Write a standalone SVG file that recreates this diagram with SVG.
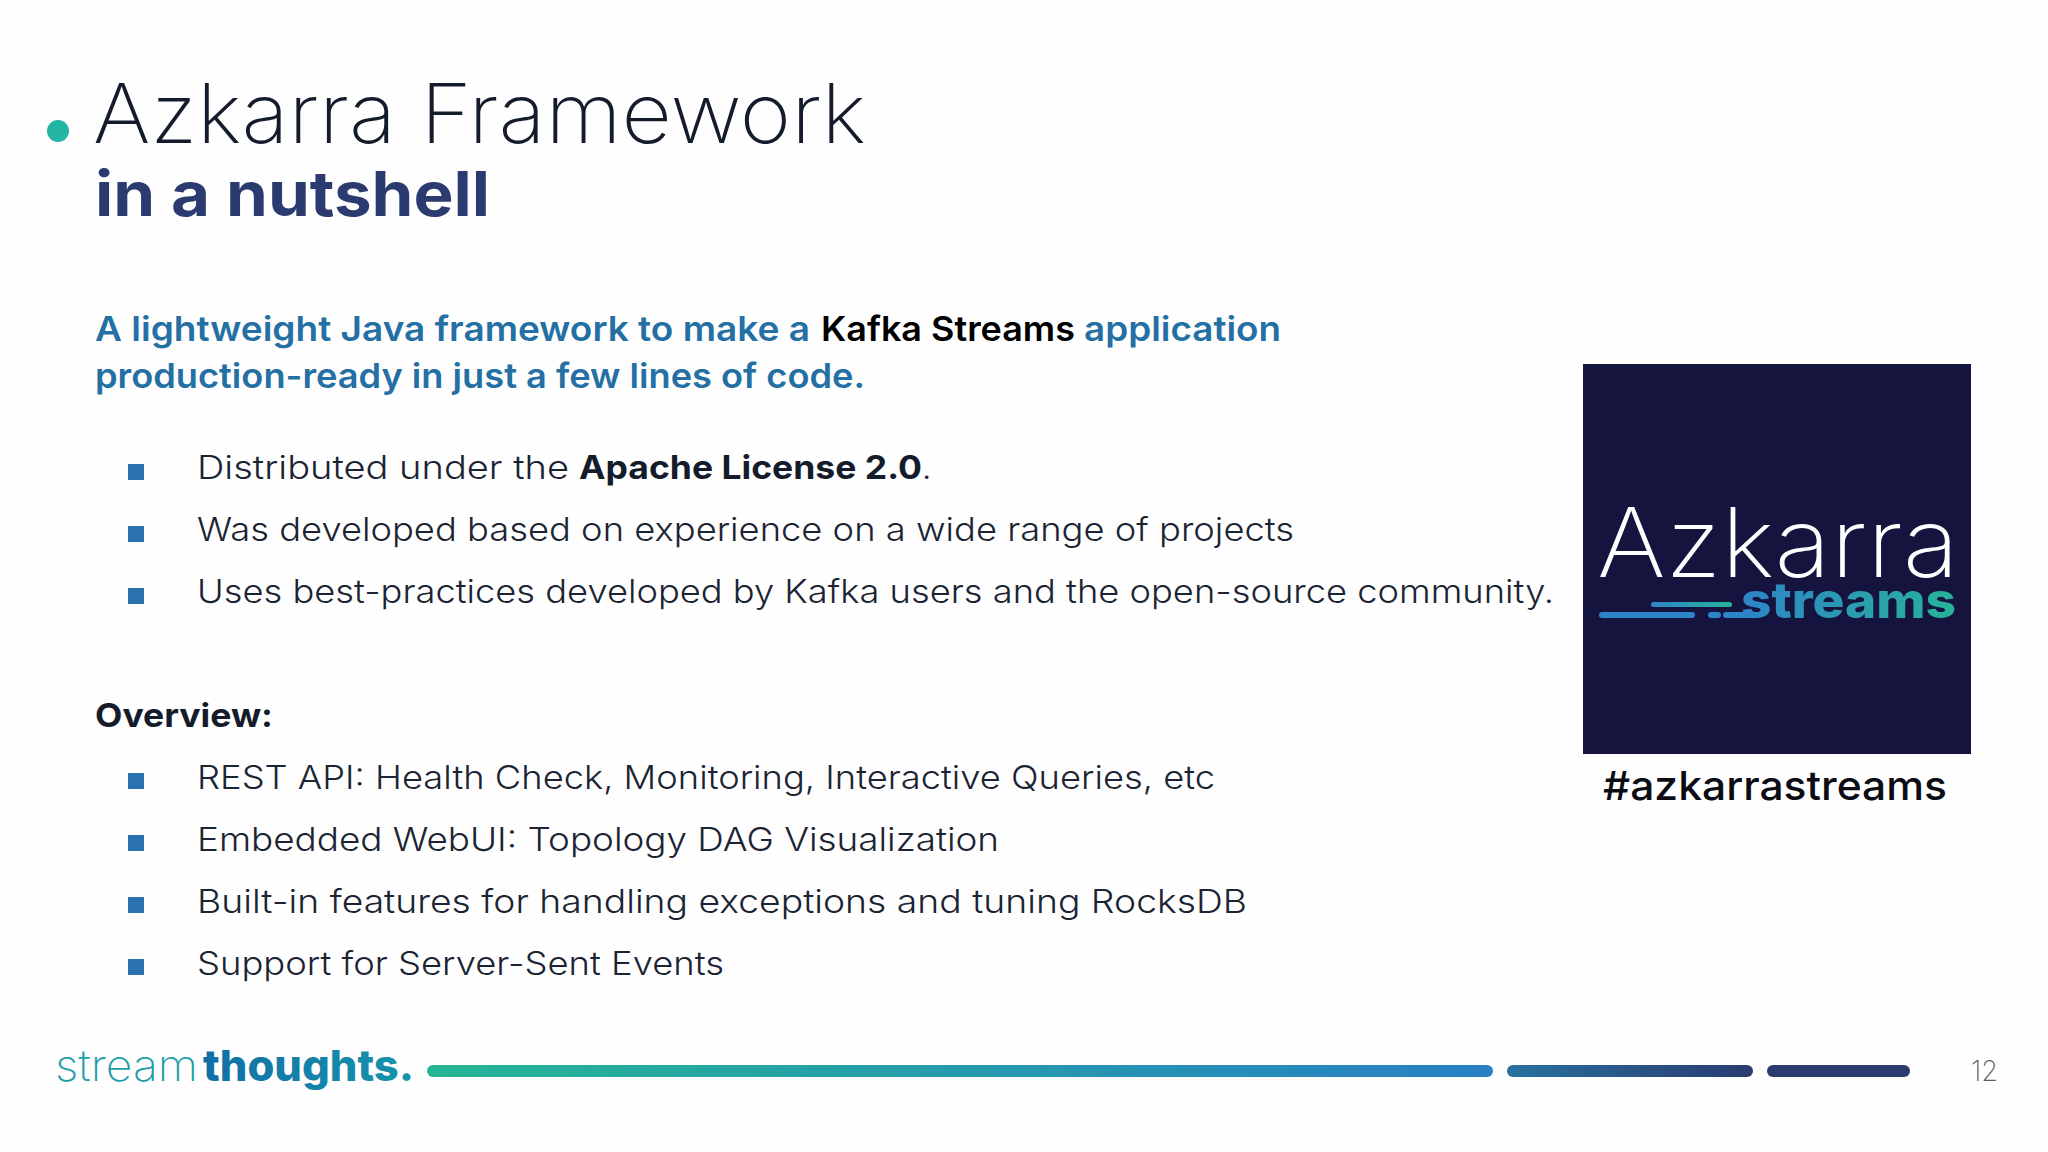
<svg xmlns="http://www.w3.org/2000/svg" width="2048" height="1152" viewBox="0 0 2048 1152">
<style>
text{font-family:"Inter","Noto Sans","Liberation Sans",sans-serif}
.b{font-size:33px;fill:#1b2433;font-weight:350}
.p{font-size:34px;fill:#2470a5;font-weight:600}
.sq{fill:#2a72ad}
</style>
<defs>
<linearGradient id="g1" gradientUnits="userSpaceOnUse" x1="427" y1="0" x2="1493" y2="0"><stop offset="0" stop-color="#25b595"/><stop offset="1" stop-color="#2780c4"/></linearGradient>
<linearGradient id="g2" gradientUnits="userSpaceOnUse" x1="1507" y1="0" x2="1753" y2="0"><stop offset="0" stop-color="#27719f"/><stop offset="1" stop-color="#2b3b70"/></linearGradient>
<linearGradient id="g3" gradientUnits="userSpaceOnUse" x1="1742" y1="0" x2="1955" y2="0"><stop offset="0" stop-color="#2e84c8"/><stop offset="1" stop-color="#27b39a"/></linearGradient>
<linearGradient id="g4" gradientUnits="userSpaceOnUse" x1="1651" y1="0" x2="1732" y2="0"><stop offset="0" stop-color="#2e84c8"/><stop offset="1" stop-color="#27b39a"/></linearGradient>
<linearGradient id="g5" gradientUnits="userSpaceOnUse" x1="200" y1="0" x2="415" y2="0"><stop offset="0" stop-color="#0f6ea6"/><stop offset="1" stop-color="#1795ab"/></linearGradient>
</defs>
<rect width="2048" height="1152" fill="#fefefe"/>
<circle cx="58" cy="131" r="11" fill="#25b5a5"/>
<text x="93" y="143" font-size="83" font-weight="200" fill="#141c2c" textLength="773" lengthAdjust="spacingAndGlyphs">Azkarra Framework</text>
<text x="95" y="216" font-size="62" font-weight="700" fill="#2b3b70" textLength="395" lengthAdjust="spacingAndGlyphs">in a nutshell</text>
<text class="p" x="95" y="341" textLength="715" lengthAdjust="spacingAndGlyphs">A lightweight Java framework to make a</text>
<text class="p" x="821" y="341" style="fill:#000" textLength="254" lengthAdjust="spacingAndGlyphs">Kafka Streams</text>
<text class="p" x="1084" y="341" textLength="197" lengthAdjust="spacingAndGlyphs">application</text>
<text class="p" x="95" y="388" textLength="770" lengthAdjust="spacingAndGlyphs">production-ready in just a few lines of code.</text>
<rect class="sq" x="128" y="464" width="16" height="16"/>
<rect class="sq" x="128" y="526" width="16" height="16"/>
<rect class="sq" x="128" y="588" width="16" height="16"/>
<rect class="sq" x="128" y="773" width="16" height="16"/>
<rect class="sq" x="128" y="835" width="16" height="16"/>
<rect class="sq" x="128" y="897" width="16" height="16"/>
<rect class="sq" x="128" y="959" width="16" height="16"/>
<text class="b" x="197" y="479" textLength="372" lengthAdjust="spacingAndGlyphs">Distributed under the</text>
<text class="b" x="579" y="479" style="font-weight:700;fill:#141c2c" textLength="343" lengthAdjust="spacingAndGlyphs">Apache License 2.0</text>
<text class="b" x="922" y="479">.</text>
<text class="b" x="197" y="540.500" textLength="1097" lengthAdjust="spacingAndGlyphs">Was developed based on experience on a wide range of projects</text>
<text class="b" x="197" y="602.500" textLength="1357" lengthAdjust="spacingAndGlyphs">Uses best-practices developed by Kafka users and the open-source community.</text>
<text x="95" y="727" font-size="33" font-weight="700" fill="#141c2c" textLength="178" lengthAdjust="spacingAndGlyphs">Overview:</text>
<text class="b" x="197" y="789" textLength="1018" lengthAdjust="spacingAndGlyphs">REST API: Health Check, Monitoring, Interactive Queries, etc</text>
<text class="b" x="197" y="851" textLength="802" lengthAdjust="spacingAndGlyphs">Embedded WebUI: Topology DAG Visualization</text>
<text class="b" x="197" y="912.500" textLength="1050" lengthAdjust="spacingAndGlyphs">Built-in features for handling exceptions and tuning RocksDB</text>
<text class="b" x="197" y="974.500" textLength="527" lengthAdjust="spacingAndGlyphs">Support for Server-Sent Events</text>
<rect x="1583" y="364" width="388" height="390" fill="#14143f"/>
<text x="1597" y="577" font-size="96" font-weight="200" fill="#fff" textLength="362" lengthAdjust="spacingAndGlyphs">Azkarra</text>
<text x="1741" y="618" font-size="50" font-weight="800" fill="url(#g3)" textLength="215" lengthAdjust="spacingAndGlyphs">streams</text>
<rect x="1651" y="602" width="81" height="5" rx="2.500" fill="url(#g4)"/>
<rect x="1599" y="612" width="96" height="6" rx="3" fill="#2e84c8"/>
<rect x="1708" y="612" width="13" height="6" rx="3" fill="#2e84c8"/>
<rect x="1723" y="612" width="34" height="6" rx="3" fill="#2e84c8"/>
<text x="1603" y="800" font-size="40" font-weight="500" fill="#0c0c14" textLength="344" lengthAdjust="spacingAndGlyphs">#azkarrastreams</text>
<text x="55" y="1081" font-size="43" font-weight="200" fill="#1f9ea8" textLength="143" lengthAdjust="spacingAndGlyphs">stream</text>
<text x="203" y="1081" font-size="43" font-weight="800" fill="url(#g5)" textLength="211" lengthAdjust="spacingAndGlyphs">thoughts.</text>
<rect x="427" y="1065" width="1066" height="12" rx="6" fill="url(#g1)"/>
<rect x="1507" y="1065" width="246" height="12" rx="6" fill="url(#g2)"/>
<rect x="1767" y="1065" width="143" height="12" rx="6" fill="#2b3b70"/>
<text x="1971" y="1081" font-size="28" font-weight="200" fill="#5a606a" textLength="27" lengthAdjust="spacingAndGlyphs">12</text>
</svg>
